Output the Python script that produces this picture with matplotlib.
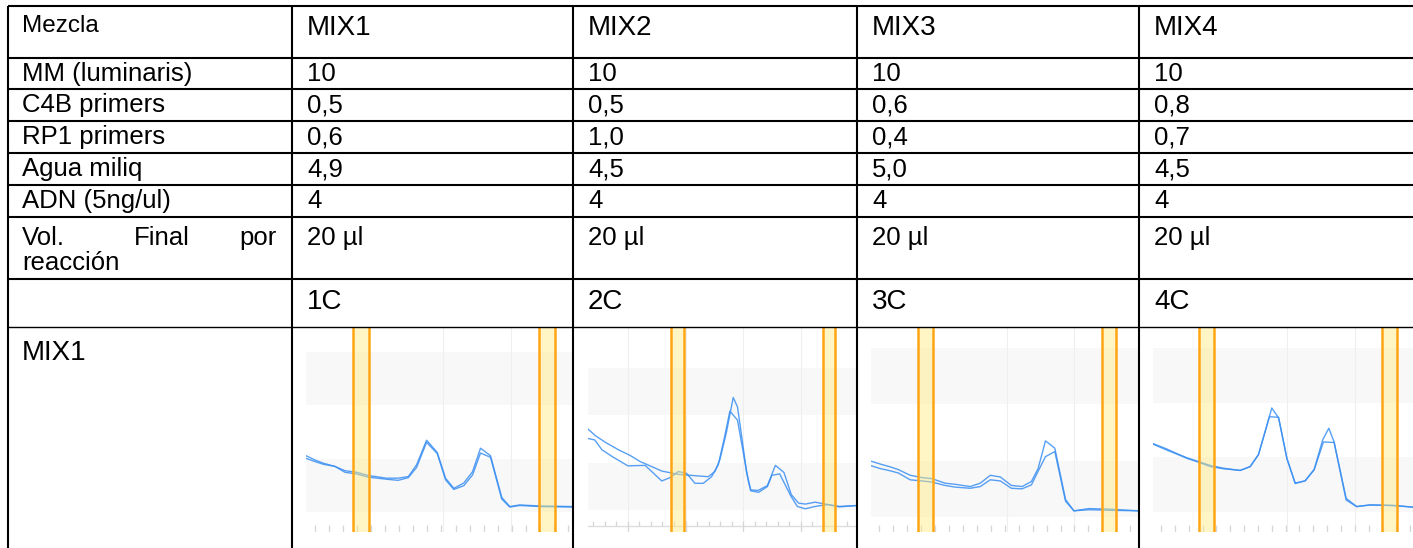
import numpy as np
import matplotlib.pyplot as plt

plt.rcParams['font.family'] = ['Liberation Sans', 'DejaVu Sans']

W, H = 1413, 548

# table content
header_label = "Mezcla"
mixes = ["MIX1", "MIX2", "MIX3", "MIX4"]
ingredients = ["MM (luminaris)", "C4B primers", "RP1 primers", "Agua miliq", "ADN (5ng/ul)"]
mm_vals = ["10", "10", "10", "10"]
c4b_vals = ["0,5", "0,5", "0,6", "0,8"]
rp1_vals = ["0,6", "1,0", "0,4", "0,7"]
agua_vals = ["4,9", "4,5", "5,0", "4,5"]
adn_vals = ["4", "4", "4", "4"]
vol_vals = ["20 µl", "20 µl", "20 µl", "20 µl"]
wells = ["1C", "2C", "3C", "4C"]
plot_row_label = "MIX1"

# melt curves: x in tick units, y in grid-band units
c1_x = [-0.64, 0, 0.59, 1.42, 2.13, 2.96, 3.79, 5.09, 5.92, 6.64, 7.23, 7.94, 8.70, 9.29,
        9.88, 10.59, 11.21, 11.78, 12.49, 13.29, 13.86, 14.57, 16.0, 18.36]
c1_a = [1.06, 0.98, 0.92, 0.86, 0.78, 0.75, 0.69, 0.64, 0.64, 0.67, 0.89, 1.35, 1.12, 0.64,
        0.45, 0.55, 0.76, 1.20, 1.06, 0.28, 0.11, 0.14, 0.12, 0.11]
c1_b = [1.01, 0.95, 0.90, 0.86, 0.75, 0.72, 0.66, 0.62, 0.60, 0.65, 0.84, 1.31, 1.10, 0.61,
        0.43, 0.50, 0.70, 1.11, 1.03, 0.25, 0.10, 0.13, 0.11, 0.10]

c2_xa = [-3.46, -2.82, -1.96, -0.81, 0.20, 1.07, 1.64, 2.94, 4.38, 5.39, 6.97, 7.55, 7.98, 8.56,
         9.14, 9.51, 9.86, 10.29, 10.66, 11.30, 12.10, 12.80, 13.54, 14.18, 14.81, 15.39,
         16.25, 17.35, 18.36, 19.88]
c2_a = [1.71, 1.57, 1.43, 1.27, 1.15, 1.02, 0.96, 0.82, 0.75, 0.73, 0.70, 0.81, 1.06, 1.65,
        2.38, 2.18, 1.58, 0.81, 0.42, 0.41, 0.51, 0.94, 0.79, 0.32, 0.14, 0.12,
        0.16, 0.11, 0.06, 0.09]
c2_xb = [-3.46, -2.88, -2.25, -1.38, 0, 1.50, 2.94, 3.66, 4.38, 5.10, 5.82, 6.54, 7.26, 7.84,
         8.36, 8.85, 9.51, 10.0, 10.43, 10.66, 11.35, 12.10, 12.50, 13.17, 14.12, 14.70,
         15.39, 16.25, 17.35, 18.36, 19.88]
c2_b = [1.51, 1.48, 1.27, 1.13, 0.93, 0.94, 0.61, 0.68, 0.81, 0.77, 0.56, 0.56, 0.70, 0.95,
        1.51, 2.09, 1.90, 1.23, 0.63, 0.40, 0.37, 0.49, 0.73, 0.76, 0.30, 0.07,
        0.02, 0.07, 0.11, 0.07, 0.09]

c3_x = [-0.6, 0.05, 0.77, 1.37, 2.21, 3.05, 3.77, 4.72, 5.44, 6.52, 7.24, 7.96, 8.68, 9.47,
        10.24, 10.91, 11.39, 11.92, 12.59, 13.36, 13.96, 15.04, 16.47, 18.63]
c3_a = [0.99, 0.94, 0.89, 0.84, 0.74, 0.70, 0.68, 0.60, 0.58, 0.54, 0.60, 0.74, 0.71, 0.56,
        0.54, 0.63, 0.86, 1.35, 1.22, 0.31, 0.11, 0.15, 0.14, 0.11]
c3_b = [0.91, 0.86, 0.82, 0.78, 0.66, 0.64, 0.62, 0.56, 0.53, 0.51, 0.54, 0.66, 0.64, 0.51,
        0.50, 0.57, 0.81, 1.07, 1.16, 0.28, 0.11, 0.13, 0.12, 0.11]

c4_xa = [-0.58, 0.43, 1.03, 1.88, 2.72, 3.56, 4.52, 5.72, 6.44, 7.04, 7.52, 8.0, 8.49, 9.09,
         9.69, 10.41, 11.06, 11.68, 12.12, 12.5, 13.37, 14.13, 15.1, 16.78, 18.2]
c4_a = [1.25, 1.15, 1.08, 0.99, 0.92, 0.85, 0.80, 0.76, 0.83, 1.05, 1.47, 1.90, 1.72, 0.98,
        0.53, 0.57, 0.78, 1.32, 1.53, 1.28, 0.25, 0.10, 0.13, 0.12, 0.09]
c4_xb = [-0.58, 0.43, 1.03, 1.88, 2.72, 3.56, 4.52, 5.72, 6.44, 7.04, 7.52, 7.83, 8.49, 9.09,
         9.69, 10.41, 11.06, 11.73, 12.5, 13.37, 14.13, 15.1, 16.78, 18.2]
c4_b = [1.24, 1.13, 1.07, 0.98, 0.91, 0.83, 0.79, 0.76, 0.83, 1.05, 1.47, 1.74, 1.73, 0.98,
        0.52, 0.57, 0.77, 1.28, 1.27, 0.22, 0.10, 0.13, 0.12, 0.09]

# orange marker regions per chart (tick units)
marks = [[(2.73, 3.86), (15.95, 17.06)],
         [(3.72, 4.87), (16.92, 17.93)],
         [(2.76, 3.88), (15.95, 17.0)],
         [(2.76, 3.85), (15.99, 17.02)]]

# chart layout: pixel box, x limits, y limits, tick band, grid lines
charts = [
    dict(box=(306, 328, 573, 532), xlim=(-0.64, 18.36), ylim=(-0.366, 3.447),
         curves=[(c1_x, c1_a), (c1_x, c1_b)], ticks=np.arange(0, 19), tick_y=(-0.366, -0.23),
         grid=[9.08, 13.98]),
    dict(box=(588, 328, 857, 532), xlim=(-3.46, 19.88), ylim=(-0.472, 3.852),
         curves=[(c2_xa, c2_a), (c2_xb, c2_b)], ticks=np.arange(-3, 20), tick_y=(-0.352, -0.246),
         grid=[0, 5, 10, 15]),
    dict(box=(871, 328, 1139, 532), xlim=(-0.6, 18.63), ylim=(-0.265, 3.35),
         curves=[(c3_x, c3_a), (c3_x, c3_b)], ticks=np.arange(0, 19), tick_y=(-0.265, -0.135),
         grid=[9.16, 13.96]),
    dict(box=(1153, 328, 1413, 532), xlim=(-0.58, 18.2), ylim=(-0.364, 3.36),
         curves=[(c4_xa, c4_a), (c4_xb, c4_b)], ticks=np.arange(0, 19), tick_y=(-0.364, -0.23),
         grid=[9.09, 14.0]),
]

fig = plt.figure(figsize=(W / 100, H / 100), dpi=100)

for i, c in enumerate(charts):
    x0, y0, x1, y1 = c['box']
    ax = fig.add_axes([x0 / W, 1 - y1 / H, (x1 - x0) / W, (y1 - y0) / H])
    ax.set_xlim(*c['xlim'])
    ax.set_ylim(*c['ylim'])
    ax.axis('off')
    ax.axhspan(0, 1, color='#f8f8f8', lw=0, zorder=0)
    ax.axhspan(2, 3, color='#f8f8f8', lw=0, zorder=0)
    for g in c['grid']:
        ax.axvline(g, color='#efefef', lw=0.8, zorder=0.5)
    ax.vlines(c['ticks'], c['tick_y'][0], c['tick_y'][1], color='#d6d6d6', lw=0.9, zorder=1)
    if i == 1:
        ax.axhline(c['tick_y'][0], color='#dcdcdc', lw=1.0, zorder=1)
        ax.vlines(c['grid'], c['ylim'][0], c['tick_y'][0], color='#d6d6d6', lw=0.9, zorder=1)
    for xs, ys in c['curves']:
        ax.plot(xs, ys, color='#3a8ff2', lw=1.0, alpha=0.85, zorder=2)
    for a, b in marks[i]:
        ax.axvspan(a, b, facecolor='#ffe97f', alpha=0.45, lw=0, zorder=3)
        ax.axvline(a, color='#ffa514', lw=1.8, zorder=4)
        ax.axvline(b, color='#ffa514', lw=1.8, zorder=4)

# table overlay
tab = fig.add_axes([0, 0, 1, 1])
tab.set_xlim(0, W)
tab.set_ylim(H, 0)
tab.axis('off')
tab.patch.set_alpha(0)

row_lines = [6, 58, 89, 121, 153, 185, 217, 279]
col_lines = [8, 292, 573, 857, 1139]
for y in row_lines:
    tab.plot([8, W], [y, y], color='black', lw=1.5, solid_capstyle='butt')
tab.plot([8, W], [327, 327], color='black', lw=1.0, solid_capstyle='butt')
for x in col_lines:
    tab.plot([x, x], [6, H], color='black', lw=1.5, solid_capstyle='butt')

col_x = [22, 307, 588, 872, 1154]
body = 18.5
tab.text(col_x[0], 32, header_label, fontsize=17.5, va='baseline')
for j, m in enumerate(mixes):
    tab.text(col_x[j + 1], 35, m, fontsize=20, va='baseline')

rows = [mm_vals, c4b_vals, rp1_vals, agua_vals, adn_vals]
for r, (name, vals) in enumerate(zip(ingredients, rows)):
    base = row_lines[r + 1] + 23
    tab.text(col_x[0], base, name, fontsize=body, va='baseline')
    for j, v in enumerate(vals):
        tab.text(col_x[j + 1], base, v, fontsize=body, va='baseline')

base = row_lines[6] + 28
tab.text(col_x[0], base, "Vol.", fontsize=body, va='baseline')
tab.text(162, base, "Final", fontsize=body, va='baseline', ha='center')
tab.text(277, base, "por", fontsize=body, va='baseline', ha='right')
tab.text(col_x[0], base + 25, "reacción", fontsize=body, va='baseline')
for j, v in enumerate(vol_vals):
    tab.text(col_x[j + 1], base, v, fontsize=body, va='baseline')

for j, w in enumerate(wells):
    tab.text(col_x[j + 1], 309, w, fontsize=20, va='baseline')

tab.text(col_x[0], 360, plot_row_label, fontsize=20, va='baseline')

fig.savefig('out.png', dpi=100)
